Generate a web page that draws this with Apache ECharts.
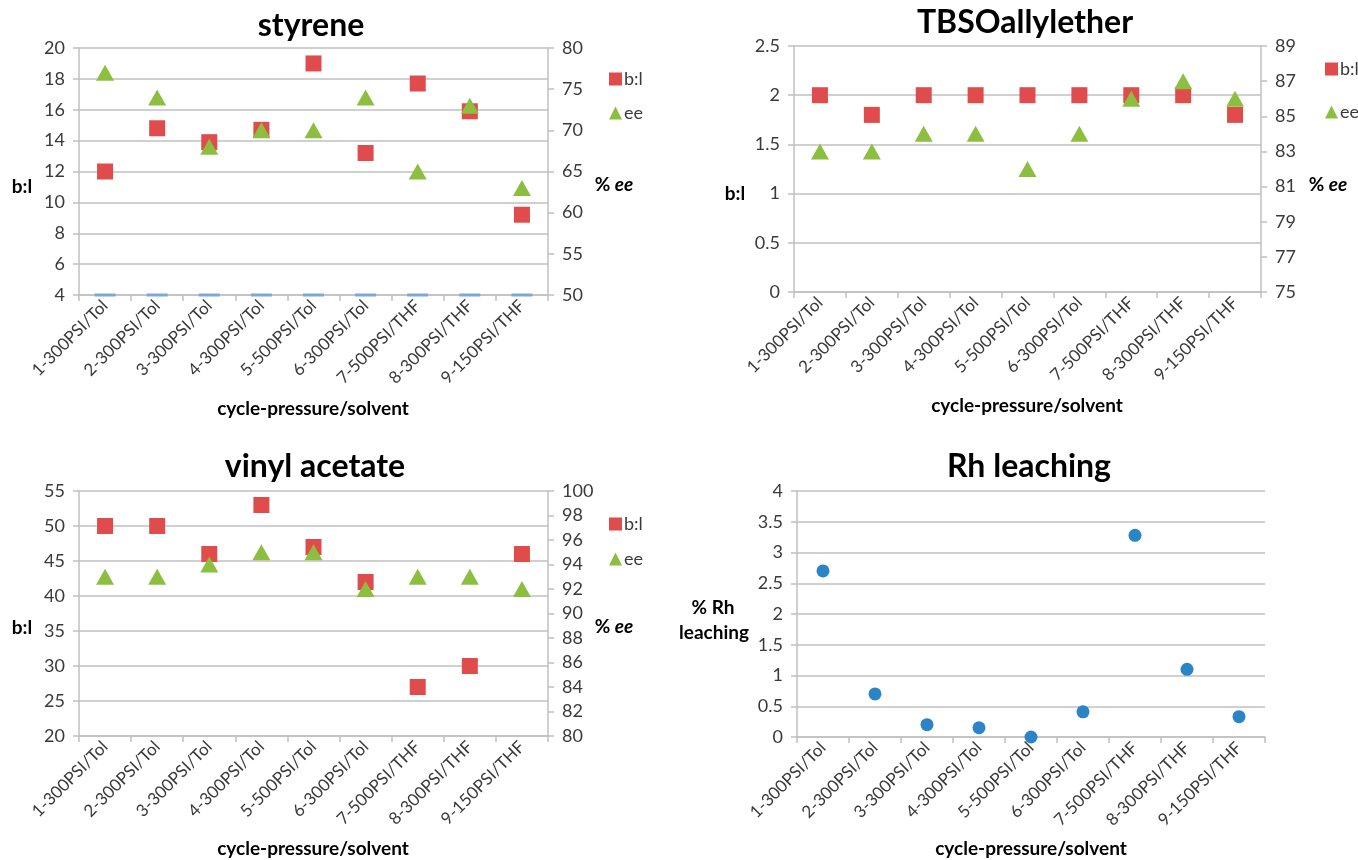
<!DOCTYPE html>
<html>
<head>
<meta charset="utf-8">
<title>Catalyst recycling</title>
<script src="https://cdn.jsdelivr.net/npm/echarts@6/dist/echarts.min.js"></script>
<style>
  html, body { margin: 0; padding: 0; background: #fff; }
  #chart { width: 1358px; height: 860px; }
</style>
</head>
<body>
<div id="chart"></div>
<script>
// data
var cycles = ['1-300PSI/Tol', '2-300PSI/Tol', '3-300PSI/Tol', '4-300PSI/Tol', '5-500PSI/Tol',
  '6-300PSI/Tol', '7-500PSI/THF', '8-300PSI/THF', '9-150PSI/THF'];

var styreneBl = [12.0, 14.8, 13.9, 14.7, 19.0, 13.2, 17.7, 15.9, 9.2];
var styreneEe = [77, 74, 68, 70, 70, 74, 65, 73, 63];
var styreneBase = [4, 4, 4, 4, 4, 4, 4, 4, 4];

var tbsoBl = [2, 1.8, 2, 2, 2, 2, 2, 2, 1.8];
var tbsoEe = [83, 83, 84, 84, 82, 84, 86, 87, 86];
var tbsoEeTicks = [75, 77, 79, 81, 83, 85, 87, 89];

var vinylBl = [50, 50, 46, 53, 47, 42, 27, 30, 46];
var vinylEe = [93, 93, 94, 95, 95, 92, 93, 93, 92];

var rhLeaching = [2.7, 0.7, 0.2, 0.15, 0, 0.41, 3.28, 1.1, 0.33];

var FONT = 'Lato, "Open Sans", sans-serif';
var LINE = '#C0C0C0';
var TEXT = '#3A3A3A';
var RED = '#E04B4B';
var GREEN = '#8CBF3F';
var BLUE = '#2A84C6';

function catAxis(gridIndex) {
  return {
    type: 'category',
    gridIndex: gridIndex,
    data: cycles,
    axisLine: { show: true, lineStyle: { color: LINE, width: 1.5 } },
    axisTick: { show: true, length: 6, lineStyle: { color: LINE, width: 1.5 } },
    axisLabel: { rotate: 45, interval: 0, margin: 8, fontSize: 17, color: TEXT, fontFamily: FONT }
  };
}

function valAxis(gridIndex, side, min, max, interval) {
  return {
    type: 'value',
    gridIndex: gridIndex,
    position: side,
    min: min,
    max: max,
    interval: interval,
    splitLine: { show: side === 'left', lineStyle: { color: LINE, width: 1.5 } },
    axisLine: { show: true, lineStyle: { color: LINE, width: 1.5 } },
    axisTick: { show: true, length: 6, lineStyle: { color: LINE, width: 1.5 } },
    axisLabel: { margin: 14, fontSize: 18, color: TEXT, fontFamily: FONT }
  };
}

function legendAt(left, top, gap) {
  return {
    orient: 'vertical',
    left: left,
    top: top,
    itemGap: gap,
    itemWidth: 13,
    itemHeight: 13,
    selectedMode: false,
    data: [{ name: 'b:l', icon: 'rect' }, { name: 'ee', icon: 'triangle' }],
    textStyle: { fontSize: 18, color: TEXT, fontFamily: FONT, padding: [0, 0, 0, -3] }
  };
}

function label(x, y, text, rich) {
  return {
    type: 'text',
    x: x,
    y: y,
    style: {
      text: text,
      align: 'center',
      verticalAlign: 'middle',
      fill: '#000',
      font: 'bold 19px ' + FONT,
      rich: rich
    }
  };
}

var eeRich = {
  a: { font: 'bold 19px ' + FONT, fill: '#000' },
  b: { font: 'italic bold 19px ' + FONT, fill: '#000' }
};

var tbsoRight = valAxis(1, 'right', 75, 89);
delete tbsoRight.interval;
tbsoRight.axisLabel.customValues = tbsoEeTicks;
tbsoRight.axisTick.customValues = tbsoEeTicks;

function titleAt(x, y, text) {
  return {
    text: text,
    left: x,
    top: y,
    textAlign: 'center',
    padding: 0,
    textStyle: { fontSize: 32, fontWeight: 'bold', color: '#000', fontFamily: FONT }
  };
}

function marks(name, x, y, data, symbol, size, color) {
  return {
    type: 'scatter', name: name, xAxisIndex: x, yAxisIndex: y, data: data,
    symbol: symbol, symbolSize: size, itemStyle: { color: color, opacity: 1 }
  };
}

var chart = echarts.init(document.getElementById('chart'));
chart.setOption({
  animation: false,
  title: [
    titleAt(311, 10, 'styrene'),
    titleAt(1025, 7, 'TBSOallylether'),
    titleAt(315, 451, 'vinyl acetate'),
    titleAt(1029, 451, 'Rh leaching')
  ],
  legend: [legendAt(604, 65, 16), legendAt(1320, 55, 25), legendAt(604, 510, 17)],
  grid: [
    { left: 79, top: 48, width: 469, height: 247 },
    { left: 794, top: 46, width: 467, height: 246 },
    { left: 79, top: 491, width: 469, height: 245 },
    { left: 797, top: 491, width: 468, height: 246 }
  ],
  xAxis: [catAxis(0), catAxis(1), catAxis(2), catAxis(3)],
  yAxis: [
    valAxis(0, 'left', 4, 20, 2),
    valAxis(0, 'right', 50, 80, 5),
    valAxis(1, 'left', 0, 2.5, 0.5),
    tbsoRight,
    valAxis(2, 'left', 20, 55, 5),
    valAxis(2, 'right', 80, 100, 2),
    valAxis(3, 'left', 0, 4, 0.5)
  ],
  series: [
    marks('base', 0, 0, styreneBase, 'rect', [21, 3], '#7DA7D9'),
    marks('b:l', 0, 0, styreneBl, 'rect', 16, RED),
    marks('ee', 0, 1, styreneEe, 'triangle', [18, 16], GREEN),
    marks('b:l', 1, 2, tbsoBl, 'rect', 16, RED),
    marks('ee', 1, 3, tbsoEe, 'triangle', [18, 16], GREEN),
    marks('b:l', 2, 4, vinylBl, 'rect', 16, RED),
    marks('ee', 2, 5, vinylEe, 'triangle', [18, 16], GREEN),
    marks('Rh', 3, 6, rhLeaching, 'circle', 13, BLUE)
  ],
  graphic: [
    label(22, 187, 'b:l'),
    label(614, 185, '{a|% }{b|ee}', eeRich),
    label(313, 409, 'cycle-pressure/solvent'),
    label(735, 194, 'b:l'),
    label(1328, 185, '{a|% }{b|ee}', eeRich),
    label(1027, 406, 'cycle-pressure/solvent'),
    label(22, 628, 'b:l'),
    label(614, 627, '{a|% }{b|ee}', eeRich),
    label(313, 849, 'cycle-pressure/solvent'),
    label(713, 608, '% Rh'),
    label(714, 633, 'leaching'),
    label(1031, 849, 'cycle-pressure/solvent')
  ]
});
</script>
</body>
</html>
